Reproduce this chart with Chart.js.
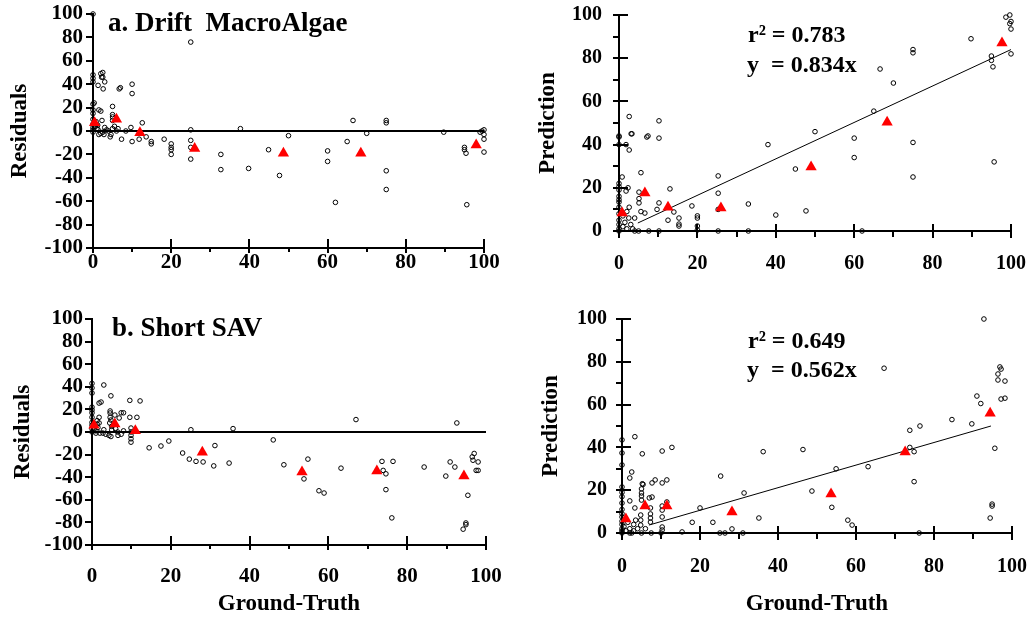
<!DOCTYPE html>
<html><head><meta charset="utf-8">
<script src="https://cdn.jsdelivr.net/npm/chart.js@4.4.1/dist/chart.umd.min.js"></script>
<style>
html,body{margin:0;padding:0;background:#fff;}
#wrap{position:relative;width:1031px;height:617px;overflow:hidden;background:#fff;}
canvas{position:absolute;}
</style></head><body>
<div id="wrap">
<canvas id="c1" width="515" height="290" style="left:0px;top:0px"></canvas>
<canvas id="c2" width="516" height="290" style="left:515px;top:0px"></canvas>
<canvas id="c3" width="515" height="327" style="left:0px;top:290px"></canvas>
<canvas id="c4" width="516" height="327" style="left:515px;top:290px"></canvas>
</div>
<script>
const FONT = "'Liberation Serif','Times New Roman',Times,serif";

// ---- tick labels ----
const xTicks = [0, 20, 40, 60, 80, 100];
const xMinorTicks = [10, 30, 50, 70, 90];
const residTicks = [-100, -80, -60, -40, -20, 0, 20, 40, 60, 80, 100];
const predTicks = [0, 20, 40, 60, 80, 100];
const predMinorTicks = [10, 30, 50, 70, 90];

// ---- a. Drift MacroAlgae : residuals (ground truth, residual) ----
const driftResid = [[0,100],[0,48],[0,45],[0,42],[0.3,24],[0,23],[0,18],[0,15],[0,10],[0,6],[0,3],[0,1],[0,-1],
 [0.5,4],[1,2],[0.8,8],[1.2,5],[1.3,39],[1.3,1],[1.5,18],[1.5,-3],[2,49],[2,17],[2,-2],[2.2,46],[2.5,46],[2.6,36],
 [2.5,50],[2.5,-1],[2.3,9],[3,42],[3,3],[2.8,-3],[3.5,1],[4,0],[4.4,-5],[4.6,-3],[5,21],[5,14],[5,12],[5,9],[5,2],
 [5.5,4],[6,0],[6.4,2],[6.7,36],[7,37],[7.3,-7],[8.4,0],[9.7,3],[10,40],[10,32],[10,-9],[11.8,-7],[12.6,7],[13.6,-5],
 [14.9,-9],[14.9,-11],[18.2,-7],[20,-11],[20,-14],[20,-16],[20,-20],[25,76],[25,1],[25,-8],[25,-14],[25,-24],
 [32.7,-20],[32.7,-33],[37.7,2],[39.8,-32],[44.9,-16],[47.7,-38],[50,-4],[60,-17],[60,-26],[62,-61],[65,-9],[66.5,9],
 [70,-2],[75,9],[75,7],[75,-34],[75,-50],[89.7,-1],[95,-14],[95,-16],[95.4,-19],[95.6,-63],[99,-1],[99.5,0],[100,1],
 [100,-3],[100,-7],[100,-18]];
const driftResidMean = [[0.4,7],[6,10],[12,-1.5],[26,-15],[48.7,-19],[68.5,-19],[98,-12]];

// ---- a. Drift MacroAlgae : prediction vs ground truth ----
const driftPred = [[0,44],[0,43.5],[0,40],[1.8,40],[2.6,53],[3.3,45],[3.1,45],[2.6,37.5],[0.8,25],[2.3,20],[1.8,18.5],
 [0,22],[0,20.5],[0,19],[0,16],[0,14.5],[0,13.4],[0,11],[0,8],[0,5],[0,3],[0,1],[0,0],[2.6,11],[5.6,27],[5.1,18],[5.1,15],
 [5.1,13],[5.6,9],[6.6,8.3],[7.4,44],[7.1,43.5],[10.2,51],[10.2,43],[10.2,13],[9.7,10],[13,19.5],[12.5,5],[14,8.8],
 [15.3,6],[15.3,3.2],[15.3,2.3],[18.6,11.6],[20,7],[20,6],[20,2.3],[20,0.5],[25.3,25.5],[25.3,17.5],[25.3,10],[25.3,0],
 [33,12.5],[33,0],[38,40],[40,7.4],[5,0],[7.6,0],[10.2,0],[4,6],[1,2],[1.5,4],[2,1],[2.5,6],[3,3],[3.5,1],[4,0],[1,7],[2,9],
 [45,28.7],[47.7,9.3],[50,46],[60,43],[60,34],[62,0],[65,55.5],[66.6,75],[70,68.5],[75,84],[75,82.5],[75,41],[75,25],
 [89.8,89],[95,81],[95,79],[95.4,76],[95.7,32],[98.7,99],[99.7,100],[100,97],[99.7,96],[100,93.5],[100,82]];
const driftPredMean = [[0.8,8.3],[6.6,17.6],[12.5,11],[26,10.6],[49,29.6],[68.4,50.4],[97.7,87]];
const driftFit = [[4.8,3.7],[100,84]];

// ---- b. Short SAV : residuals ----
const savResid = [[0,43],[0,39],[0,34.5],[0,22],[0,19.5],[0,17],[0,13],[0,8.5],[0,6],[0,3],[0,0],[0.5,3],[1,1],[1,-1],
 [1.3,10],[1.3,7],[1.5,4],[1.8,25.6],[2.3,26.5],[1.8,13],[1.8,8],[2,-1],[2.8,-1],[3,2],[3,41.6],[3.5,-2],[4.8,32],[4.6,18.6],
 [4.6,16.8],[4.6,13],[4.8,10.6],[4.5,8],[5,5],[5,2],[4.3,-3],[4.8,-4],[5.8,15],[6,3],[6.5,0],[6.6,-3],[6.9,12.4],[7.4,17],
 [8,17],[7.4,-2],[8,1],[9.6,28],[9.6,13],[11.4,13],[12.2,27.5],[9.9,3.5],[9.9,0],[9.9,-3],[9.9,-6],[9.9,-9],[14.5,-14],
 [17.5,-12.4],[19.5,-8],[23,-18.6],[24.7,-24],[25.1,2],[26.4,-26],[28.2,-26.5],[30.9,-30],[31.2,-12],[34.8,-27.5],[35.8,3],
 [46,-7],[48.7,-29],[54.8,-24],[53.8,-41.5],[57.6,-52],[58.9,-54],[63.2,-32],[67,11],[73.6,-26],[73.9,-34],[74.6,-37],
 [74.6,-51],[76.4,-26],[76.1,-76],[84.3,-31],[89.8,-39],[90.9,-26.5],[92.1,-31],[92.6,8],[95.4,-56],[94.2,-86],[94.9,-80.5],
 [94.9,-82],[96.5,-22],[96.7,-25],[97,-19],[98,-26.5],[97.5,-34],[98,-34]];
const savResidMean = [[0.5,6],[5.8,7],[11,1],[28,-18],[53.3,-35.4],[72.3,-34.5],[94.4,-39]];

// ---- b. Short SAV : prediction vs ground truth ----
const savPred = [[0,43.5],[0,37.4],[0,31.8],[0,21.5],[0,19],[0,17],[0,14],[0,11],[0,9],[0,7.5],[0,5.5],[0,4],[0,2],[0,1],[0,0],
 [3.3,45],[5.2,37],[10.3,38.3],[12.8,40],[2.5,28.5],[2,25.7],[5.2,23],[5.4,22.7],[5,20.6],[5,18.7],[5,17.3],[5,15.4],
 [7.7,23.4],[8.5,24.8],[10.3,23.4],[11.5,24.8],[2,15],[3.3,11.7],[7,16.4],[7.7,16.8],[7.3,11.7],[7.3,8.9],[7.3,7],[7.3,5.1],
 [10.3,12.6],[10.3,10.7],[10.3,7.5],[10.3,2.8],[10.3,1.4],[11.5,14.5],[4.8,8.4],[4.8,6],[4.8,3.7],[0.5,3],[1,1],[1.5,5],
 [2,2],[2.5,0],[3,4],[3,1],[3.5,6],[4,2],[5,0],[6,2],[7.5,0],[10,0],[2,0],
 [15.4,0.5],[18,5],[20,11.7],[23.3,5],[25.3,26.6],[25.1,0],[26.4,0],[28.2,1.9],[31,0],[31.3,18.7],[35.1,7],[36.2,38],
 [46.4,39],[48.7,19.6],[53.8,12],[54.9,30],[57.9,6],[59,3.7],[63.1,31],[67.2,77],[73.8,48],[73.8,40],[74.9,38],[74.9,24],
 [76.4,50],[76.2,0],[84.6,53],[89.7,51],[91,64],[92,60.5],[92.8,100],[94.4,7],[94.9,13.5],[94.9,12.6],[95.6,39.6],
 [96.4,74.3],[96.4,71.5],[96.9,77.6],[97.2,76.6],[98.2,71],[97.2,62.6],[98.2,63]];
const savPredMean = [[1,6.5],[5.9,12.6],[11.5,12.6],[28.2,9.8],[53.6,18.2],[72.6,37.8],[94.4,56]];
const savFit = [[6.9,3.7],[94.6,50]];
const zeroLine = [[0,0],[100,0]];

// ---- plugins ----
const tickMarks = {
  id: 'tickMarks',
  afterDraw(chart, args, o) {
    const ctx = chart.ctx, xs = chart.scales.x, ys = chart.scales.y;
    const L = chart.chartArea.left, B = chart.chartArea.bottom;
    ctx.save();
    ctx.strokeStyle = '#000'; ctx.lineWidth = 2; ctx.lineCap = 'butt';
    ctx.beginPath();
    for (const v of o.yMajor) { const p = Math.round(ys.getPixelForValue(v)); ctx.moveTo(L - o.yMajL, p); ctx.lineTo(L + o.yMajR, p); }
    for (const v of o.yMinor) { const p = Math.round(ys.getPixelForValue(v)); ctx.moveTo(L - o.yMinL, p); ctx.lineTo(L, p); }
    for (const v of o.xMajor) { const p = Math.round(xs.getPixelForValue(v)); ctx.moveTo(p, B - o.xMajU); ctx.lineTo(p, B + o.xMajD); }
    for (const v of o.xMinor) { const p = Math.round(xs.getPixelForValue(v)); ctx.moveTo(p, B); ctx.lineTo(p, B + o.xMinD); }
    ctx.stroke();
    ctx.restore();
  }
};
const notes = {
  id: 'notes',
  afterDraw(chart, args, o) {
    const ctx = chart.ctx;
    ctx.save();
    ctx.fillStyle = '#000'; ctx.textBaseline = 'alphabetic'; ctx.textAlign = 'left';
    for (const t of o.items) {
      ctx.font = 'bold ' + t.size + 'px ' + FONT;
      ctx.fillText(t.text, t.x, t.y);
    }
    ctx.restore();
  }
};

const toXY = arr => arr.map(p => ({x: p[0], y: p[1]}));

function makePanel(id, cv, area, cfg) {
  const padTop = area.T - cv.y, padRight = cv.x + cv.w - area.R;
  const yW = area.L - cv.x, xH = cv.y + cv.h - area.B;
  const datasets = [
    {data: toXY(cfg.mean), pointStyle: 'triangle', pointRadius: 6.5, backgroundColor: '#ff0000', borderColor: '#ff0000', borderWidth: 0, clip: false, order: 0},
    {data: toXY(cfg.pts), pointStyle: 'circle', pointRadius: 2.3, backgroundColor: 'rgba(0,0,0,0)', borderColor: '#000', borderWidth: 1, clip: false, order: 1},
    {data: toXY(cfg.line), showLine: true, pointRadius: 0, borderColor: '#000', borderWidth: cfg.lineW, clip: false, order: 2}
  ];
  const tickFontY = {family: FONT, size: cfg.tickSizeY, weight: 'bold'};
  const tickFontX = {family: FONT, size: cfg.tickSizeX, weight: 'bold'};
  return new Chart(document.getElementById(id), {
    type: 'scatter',
    data: {datasets},
    plugins: [tickMarks, notes],
    options: {
      responsive: false, animation: false, events: [],
      layout: {padding: {top: padTop, right: padRight, left: 0, bottom: 0}},
      plugins: {
        legend: {display: false}, tooltip: {enabled: false},
        tickMarks: cfg.marks,
        notes: {items: cfg.notes.map(n => ({...n, x: n.x - cv.x, y: n.y - cv.y}))}
      },
      scales: {
        x: {
          type: 'linear', min: 0, max: 100,
          afterBuildTicks: s => { s.ticks = xTicks.map(v => ({value: v})); },
          afterFit: s => { s.height = xH; },
          grid: {drawOnChartArea: false, drawTicks: true, tickLength: cfg.xPad, tickColor: 'rgba(0,0,0,0)'},
          border: {display: true, color: '#000', width: 2},
          ticks: {color: '#000', font: tickFontX, padding: 0, autoSkip: false, maxRotation: 0},
          title: cfg.xTitle ? {display: true, text: cfg.xTitle, color: '#000', font: {family: FONT, size: 23, weight: 'bold', lineHeight: 1.1}, padding: {top: 0, bottom: 0}} : {display: false}
        },
        y: {
          type: 'linear', min: cfg.yMin, max: 100,
          afterBuildTicks: s => { s.ticks = cfg.yTicks.map(v => ({value: v})); },
          afterFit: s => { s.width = yW; },
          grid: {drawOnChartArea: false, drawTicks: true, tickLength: cfg.yPad, tickColor: 'rgba(0,0,0,0)'},
          border: {display: true, color: '#000', width: 2},
          ticks: {color: '#000', font: tickFontY, padding: 0, autoSkip: false},
          title: {display: true, text: cfg.yTitle, color: '#000', font: {family: FONT, size: 23, weight: 'bold', lineHeight: 1.2}, padding: {top: cfg.yTitlePad, bottom: 0}}
        }
      }
    }
  });
}

const leftMarks = {yMajor: residTicks, yMinor: [], yMajL: 7, yMajR: 0, yMinL: 0, xMajor: xTicks, xMinor: xMinorTicks, xMajU: 9, xMajD: 5, xMinD: 4};
const rightMarks = {yMajor: predTicks, yMinor: predMinorTicks, yMajL: 6, yMajR: 9, yMinL: 6, xMajor: xTicks, xMinor: xMinorTicks, xMajU: 7, xMajD: 7, xMinD: 6};

makePanel('c1', {x: 0, y: 0, w: 515, h: 290}, {L: 93, T: 14, R: 484, B: 248}, {
  pts: driftResid, mean: driftResidMean, line: zeroLine, lineW: 2,
  yMin: -100, yTicks: residTicks, yTitle: 'Residuals', yTitlePad: 6,
  tickSizeY: 21, tickSizeX: 21, yPad: 10, xPad: 2, marks: leftMarks,
  notes: [{text: 'a. Drift  MacroAlgae', x: 108, y: 31, size: 27}]
});
makePanel('c2', {x: 515, y: 0, w: 516, h: 290}, {L: 619, T: 15, R: 1011, B: 231}, {
  pts: driftPred, mean: driftPredMean, line: driftFit, lineW: 1,
  yMin: 0, yTicks: predTicks, yTitle: 'Prediction', yTitlePad: 19,
  tickSizeY: 20, tickSizeX: 20, yPad: 17, xPad: 21, marks: rightMarks,
  notes: [{text: 'r\u00B2 = 0.783', x: 748, y: 42, size: 24}, {text: 'y  = 0.834x', x: 747, y: 72, size: 24}]
});
makePanel('c3', {x: 0, y: 290, w: 515, h: 327}, {L: 92, T: 319, R: 486, B: 545}, {
  pts: savResid, mean: savResidMean, line: zeroLine, lineW: 2,
  yMin: -100, yTicks: residTicks, yTitle: 'Residuals', yTitlePad: 9,
  tickSizeY: 21, tickSizeX: 21, yPad: 9, xPad: 19, marks: leftMarks, xTitle: 'Ground-Truth',
  notes: [{text: 'b. Short SAV', x: 112, y: 336, size: 27}]
});
makePanel('c4', {x: 515, y: 290, w: 516, h: 327}, {L: 622, T: 319, R: 1012, B: 533}, {
  pts: savPred, mean: savPredMean, line: savFit, lineW: 1,
  yMin: 0, yTicks: predTicks, yTitle: 'Prediction', yTitlePad: 22,
  tickSizeY: 20, tickSizeX: 20, yPad: 15, xPad: 22, marks: rightMarks, xTitle: 'Ground-Truth',
  notes: [{text: 'r\u00B2 = 0.649', x: 748, y: 348, size: 24}, {text: 'y  = 0.562x', x: 747, y: 377, size: 24}]
});
</script>
</body></html>
